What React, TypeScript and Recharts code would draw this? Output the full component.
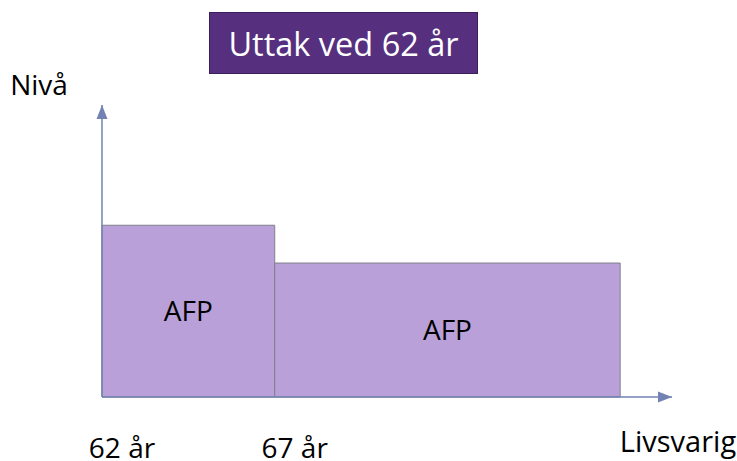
import React from 'react';
import { ComposedChart, XAxis, YAxis, ReferenceArea } from 'recharts';

const chartTitle = 'Uttak ved 62 år';
const yAxisTitle = 'Nivå';
const xAxisEndLabel = 'Livsvarig';
const segmentLabels = ['AFP', 'AFP'];
const segmentStart = [62, 67];
const segmentEnd = [67, 77];
const segmentLevel = [100, 78];
const tickValues = [62, 67];
const tickLabels = ['62 år', '67 år'];

const xDomain = [62, 78.5];
const yDomain = [0, 170];

const AXIS = '#7282B2';
const FONT = '"Open Sans", sans-serif';
const FS = 28;

const data = segmentStart.map((s, i) => ({ x: s, y: segmentLevel[i] }));

const XTick = (props: any) => {
  const { x, y, payload, index } = props;
  return (
    <text x={x + 20} y={y + 53} textAnchor="middle" fontFamily={FONT} fontSize={FS} fill="#000">
      {tickLabels[index] ?? payload.value}
    </text>
  );
};

export default function App() {
  return (
    <div style={{ position: 'absolute', left: 0, top: 0, width: 737, height: 461, background: '#fff' }}>
      <svg width={0} height={0} style={{ position: 'absolute' }}>
        <defs>
          <marker id="arrowUp" markerWidth={12} markerHeight={14} refX={6} refY={0} markerUnits="userSpaceOnUse" orient="0">
            <path d="M6 0 L11.5 14 L0.5 14 Z" fill={AXIS} />
          </marker>
          <marker id="arrowRight" markerWidth={14} markerHeight={12} refX={14} refY={6} markerUnits="userSpaceOnUse" orient="0">
            <path d="M0 0.5 L14 6 L0 11.5 Z" fill={AXIS} />
          </marker>
        </defs>
      </svg>
      <div
        style={{
          position: 'absolute',
          left: 209,
          top: 12,
          width: 269,
          height: 62,
          boxSizing: 'border-box',
          background: '#56307F',
          border: '1px solid #3a1f5a',
          color: '#fff',
          fontFamily: FONT,
          fontSize: 32.5,
          display: 'flex',
          alignItems: 'center',
          justifyContent: 'center',
        }}
      >
        {chartTitle}
      </div>
      <ComposedChart
        width={737}
        height={461}
        data={data}
        margin={{ top: 105, right: 65, bottom: 34, left: 62 }}
        style={{ position: 'absolute', left: 0, top: 0 }}
      >
        <XAxis
          dataKey="x"
          type="number"
          domain={xDomain}
          allowDataOverflow
          ticks={tickValues}
          tickLine={false}
          height={30}
          axisLine={{ stroke: AXIS, strokeWidth: 1.5, markerEnd: 'url(#arrowRight)' }}
          tick={<XTick />}
          label={{
            content: (p: any) => {
              const vb = p.viewBox;
              return (
                <text x={vb.x + vb.width + 6} y={vb.y + 55} textAnchor="middle" fontFamily={FONT} fontSize={29} fill="#000">
                  {xAxisEndLabel}
                </text>
              );
            },
          }}
        />
        <YAxis
          type="number"
          domain={yDomain}
          allowDataOverflow
          width={40}
          tick={false}
          tickLine={false}
          axisLine={{ stroke: AXIS, strokeWidth: 1.5, markerStart: 'url(#arrowUp)' }}
          label={{
            content: (p: any) => {
              const vb = p.viewBox;
              return (
                <text x={vb.x + vb.width - 63} y={vb.y - 10} textAnchor="middle" fontFamily={FONT} fontSize={FS} fill="#000">
                  {yAxisTitle}
                </text>
              );
            },
          }}
        />
        {segmentStart.map((s, i) => (
          <ReferenceArea
            key={i}
            x1={s}
            x2={segmentEnd[i]}
            y1={0}
            y2={segmentLevel[i]}
            fill="#B9A0D8"
            fillOpacity={1}
            stroke="#80808a"
            strokeWidth={1}
            ifOverflow="visible"
            label={{ value: segmentLabels[i], position: 'center', fontFamily: FONT, fontSize: FS, fill: '#000' }}
          />
        ))}
      </ComposedChart>
    </div>
  );
}
